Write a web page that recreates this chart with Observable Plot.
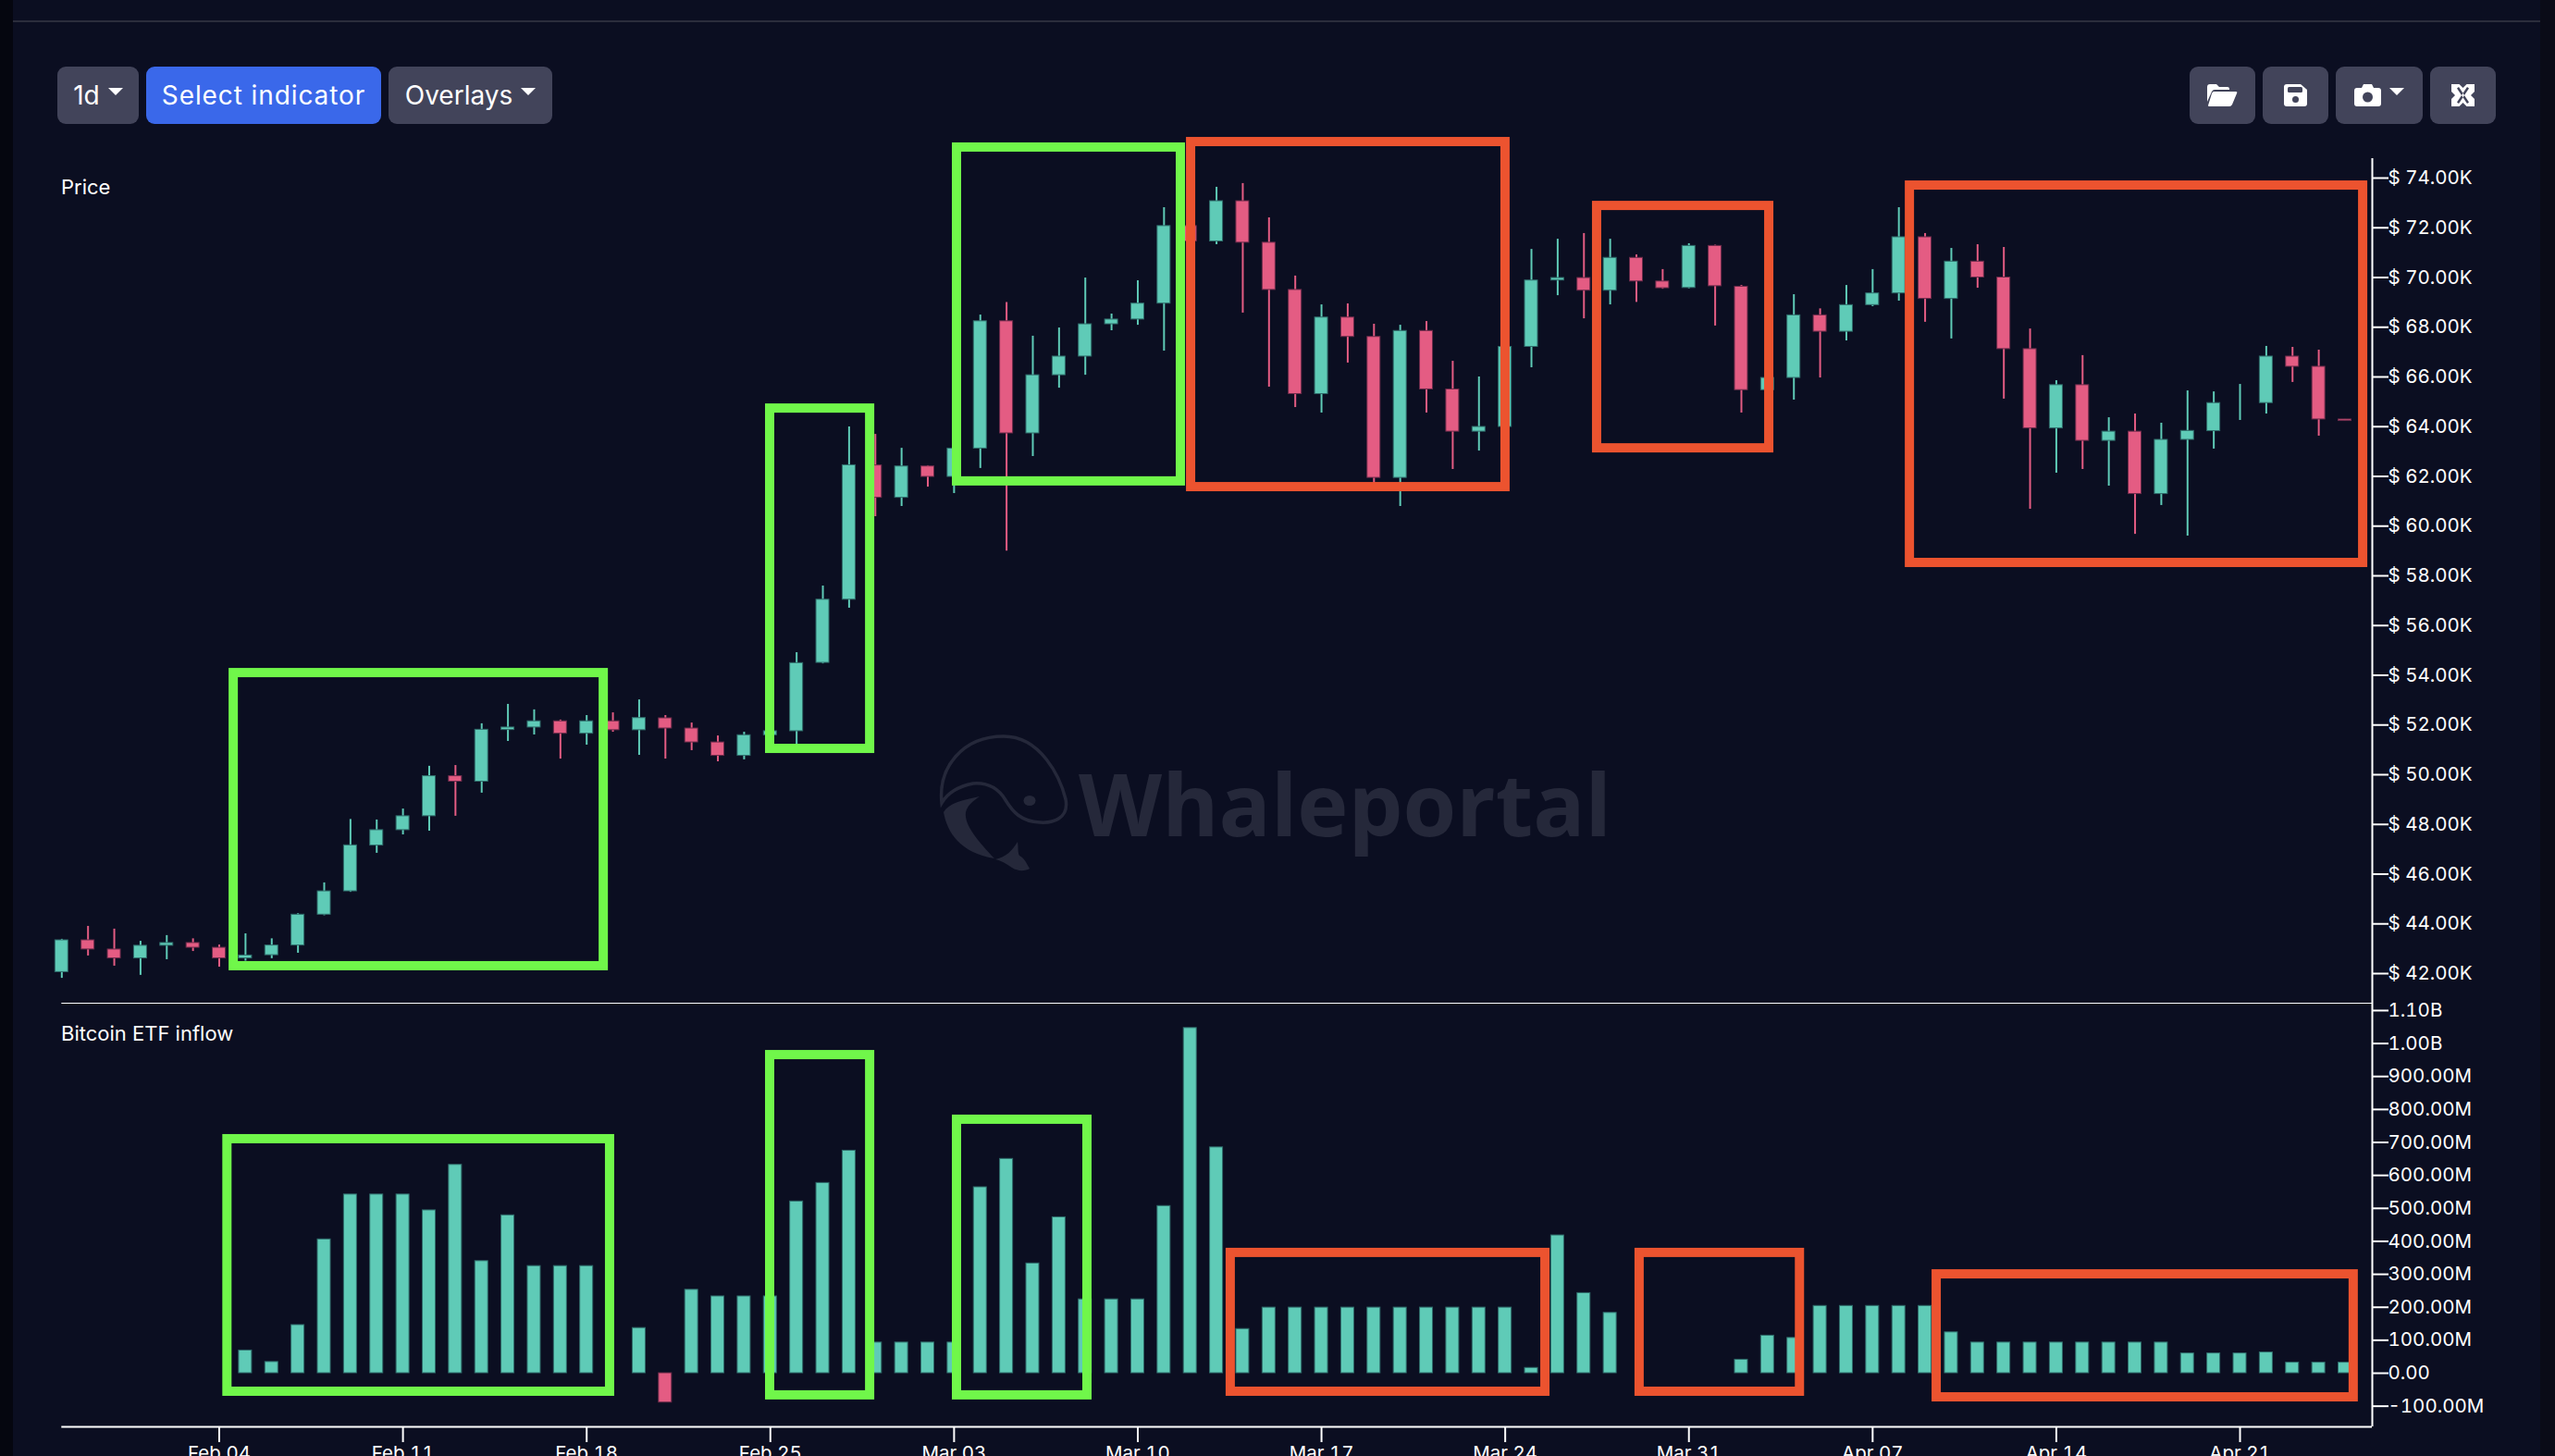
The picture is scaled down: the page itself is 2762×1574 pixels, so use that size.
<!DOCTYPE html>
<html><head><meta charset="utf-8">
<script src="https://cdn.jsdelivr.net/npm/d3@7"></script>
<script src="https://cdn.jsdelivr.net/npm/@observablehq/plot@0.6"></script>
<style>
html,body{margin:0;padding:0;background:#0b0e21;width:2762px;height:1574px;overflow:hidden;font-family:Inter,sans-serif;color:#fff}
.abs{position:absolute}
.stripL{left:0;top:0;width:14px;height:1574px;background:#05060f}
.stripR{left:2746px;top:0;width:16px;height:1574px;background:#0a0b17}
.hline{left:14px;top:22px;width:2732px;height:2px;background:#2b2d3c}
.btn{top:72px;height:62px;border-radius:9px;background:#42445a;display:flex;align-items:center;justify-content:center;font-size:28px;font-weight:400;color:#fff;box-sizing:border-box}
.btn.blue{background:#3a68ea;letter-spacing:.9px}
.caret{display:inline-block;width:0;height:0;border-left:8px solid transparent;border-right:8px solid transparent;border-top:8px solid #fff;margin-left:9px;position:relative;top:-4px}
.lab{font-size:22px;line-height:26px}
.panel{left:0}
.panel svg{display:block;background:transparent;overflow:visible}
[aria-label="y-axis tick"],[aria-label="x-axis tick"]{stroke-width:2}
</style></head><body>
<div class="abs stripL"></div><div class="abs stripR"></div><div class="abs hline"></div>

<svg class="abs" style="left:1000px;top:780px" width="780" height="180">
  <g fill="none" stroke="#25283a" stroke-width="3.5"><path d="M18 88 C14 50 40 16 85 16 C125 16 146 60 152 84 C156 105 138 110 124 109 C104 108 95 98 87 85 C78 70 66 66 52 67 C36 70 24 78 18 88Z"/></g>
  <g fill="#25283a">
    <ellipse cx="113" cy="85.5" rx="6.5" ry="5.5"/>
    <path d="M59 81 C40 85 26 88 20 98 C24 120 38 142 75 148 C58 130 42 112 44 98 C46 90 52 86 59 81Z"/>
    <path d="M76 149 C88 146 94 140 100 130 C101 136 100 142 102 145 C108 148 110 154 113 159 C108 162 100 162 94 158 C88 154 84 151 76 149Z"/>
    <text x="166" y="124" font-family="'Open Sans',sans-serif" font-weight="700" font-size="94" textLength="576" lengthAdjust="spacingAndGlyphs">Whaleportal</text>
  </g>
</svg>

<div id="p1" class="abs panel" style="top:0"></div>
<div id="p2" class="abs panel" style="top:1074px"></div>

<div class="abs btn" style="left:62px;width:88px">1d<span class="caret"></span></div>
<div class="abs btn blue" style="left:158px;width:254px">Select indicator</div>
<div class="abs btn" style="left:420px;width:177px">Overlays<span class="caret"></span></div>

<div class="abs btn" style="left:2367px;width:71px"><svg width="33" height="24" viewBox="0 0 33 24"><path fill="#fff" d="M0 3q0-3 3-3h7l3 3h9q2 0 2 2v1H8q-2 0-3 2L0 19Z M7 8H31q2 0 1 2L27 22q-1 2-3 2H2q-1 0-1-1L5 10q1-2 2-2Z"/></svg></div>
<div class="abs btn" style="left:2446px;width:71px"><svg width="25" height="24" viewBox="0 0 25 24"><path fill="#fff" d="M3 0H18L25 6V21q0 3-3 3H3q-3 0-3-3V3q0-3 3-3Z"/><rect x="4" y="3" width="16" height="6" rx="1.5" fill="#42445a"/><circle cx="12.5" cy="16.5" r="3.5" fill="#42445a"/></svg></div>
<div class="abs btn" style="left:2525px;width:94px"><svg width="29" height="24" viewBox="0 0 29 24"><path fill="#fff" d="M3 4H8L10 0H19L21 4H26q3 0 3 3V21q0 3-3 3H3q-3 0-3-3V7q0-3 3-3Z"/><circle cx="14.5" cy="14" r="5.5" fill="#42445a"/></svg><span class="caret"></span></div>
<div class="abs btn" style="left:2627px;width:71px"><svg width="25" height="24" viewBox="0 0 25 24"><rect width="25" height="24" fill="#fff"/><path fill="#42445a" d="M8.5 0h8l-4 4zM8.5 24h8l-4-4zM0 8v8l4-4zM25 8v8l-4-4zM6 4.5L8 3l11 16.500-2 1.500zM19 4.500L17 3L6 19.500l2 1.500z"/></svg></div>

<div class="abs lab" style="left:66px;top:189px">Price</div>
<div class="abs lab" style="left:66px;top:1104px">Bitcoin ETF inflow</div>

<script>
const firstDay = "2024-01-29";
const openK = [42.06,43.34,42.97,42.61,43.12,43.23,43.04,42.61,42.74,43.13,44.37,45.31,47.15,47.77,48.33,49.94,49.72,51.80,51.90,52.15,51.65,52.15,51.79,52.27,51.86,51.30,50.76,51.59,51.75,54.50,57.04,62.44,61.14,62.40,61.98,63.12,68.24,63.73,66.07,66.82,68.12,68.31,68.95,72.07,71.45,73.07,71.40,69.50,65.31,68.39,67.61,61.94,67.85,65.50,63.80,63.99,67.21,69.88,69.98,69.47,70.79,69.84,69.58,71.27,69.63,65.47,65.96,68.48,67.82,68.89,69.36,71.62,69.14,70.64,70.00,67.12,63.93,65.67,63.43,63.80,61.29,63.47,63.82,64.96,64.95,66.82,66.41,64.29];
const closeK = [43.34,42.97,42.61,43.12,43.23,43.04,42.61,42.73,43.13,44.37,45.31,47.16,47.77,48.33,49.94,49.72,51.81,51.90,52.15,51.65,52.15,51.79,52.28,51.86,51.30,50.76,51.59,51.75,54.49,57.04,62.45,61.14,62.40,61.98,63.12,68.24,63.73,66.07,66.82,68.12,68.31,68.95,72.07,71.45,73.07,71.40,69.50,65.31,68.39,67.61,61.94,67.85,65.50,63.80,63.99,67.21,69.88,69.98,69.47,70.79,69.84,69.57,71.27,69.65,65.47,65.96,68.48,67.82,68.89,69.36,71.62,69.14,70.64,70.00,67.12,63.93,65.67,63.43,63.80,61.29,63.47,63.83,64.95,64.96,66.82,66.41,64.29,64.23];
const highK = [43.38,43.90,43.79,43.30,43.53,43.40,43.15,43.60,43.40,44.41,45.65,48.20,48.18,48.62,50.34,50.37,52.05,52.83,52.61,52.20,52.38,52.49,53.01,52.38,52.08,51.56,51.71,51.90,54.91,57.59,63.99,63.69,63.13,62.43,63.20,68.49,69.00,67.64,67.97,69.98,68.53,69.87,72.81,72.90,73.63,73.78,72.40,70.06,68.90,68.94,68.12,68.08,68.23,66.63,66.00,67.60,71.13,71.54,71.77,71.54,70.91,70.32,71.36,71.30,69.68,66.80,69.31,68.74,69.68,70.32,72.81,71.77,71.17,71.32,71.21,67.93,65.85,66.86,64.36,64.51,64.14,65.44,65.40,65.70,67.23,67.19,67.08,64.29];
const lowK = [41.81,42.71,42.30,41.93,42.56,42.89,42.26,42.50,42.60,42.82,44.33,45.27,46.84,47.58,47.73,48.33,49.26,51.34,51.60,50.63,51.19,51.71,50.78,50.63,50.97,50.52,50.60,51.30,50.90,54.46,56.70,60.38,60.79,61.57,61.31,62.32,59.00,62.80,65.55,66.07,67.86,68.08,67.04,68.70,71.32,68.57,65.59,64.77,64.55,66.56,61.60,60.79,64.55,62.28,63.02,63.50,66.37,69.27,68.34,68.90,69.00,69.53,69.55,68.05,64.55,64.50,65.07,65.96,67.45,68.83,69.05,68.20,67.53,69.57,65.11,60.68,62.13,62.28,61.61,59.67,60.83,59.60,63.10,64.25,64.51,65.78,63.62,64.23];
// Bitcoin ETF inflow in $M; first bar is Feb 05, gaps are days without a bar
const inflowFirstOffset = 7;
const inflowM = [69,34,146,406,542,542,542,494,632,340,479,325,325,325,null,137,-89,253,233,233,233,521,577,675,93,93,93,93,564,650,333,473,224,224,224,507,1047,685,134,199,199,199,199,199,199,199,199,199,199,16,418,243,183,null,null,null,null,41,114,107,204,204,204,204,204,124,93,93,93,93,93,93,93,93,60,60,60,63,32,32,32];
const priceTicks = [42,44,46,48,50,52,54,56,58,60,62,64,66,68,70,72,74];
const inflowTicks = [-100,0,100,200,300,400,500,600,700,800,900,1000,1100];
const weekTicks = ["2024-02-04","2024-02-11","2024-02-18","2024-02-25","2024-03-03","2024-03-10","2024-03-17","2024-03-24","2024-03-31","2024-04-07","2024-04-14","2024-04-21"];
// analyst's rectangles: start day, end day (offsets from firstDay), top and bottom values
const priceBoxes = [
 {c:"up",a:6.55,b:20.65,t:54.09,u:42.30},{c:"up",a:26.99,b:30.80,t:64.73,u:51.04},{c:"up",a:34.11,b:42.64,t:75.23,u:61.80},
 {c:"down",a:43.03,b:55.01,t:75.45,u:61.57},{c:"down",a:58.50,b:65.06,t:72.88,u:63.13},{c:"down",a:70.42,b:87.69,t:73.70,u:58.52}];
const inflowBoxes = [
 {c:"up",a:6.31,b:20.89,t:710,u:-56},{c:"up",a:26.99,b:30.80,t:965,u:-67},{c:"up",a:34.11,b:39.08,t:769,u:-67},
 {c:"down",a:44.54,b:56.53,t:365,u:-56},{c:"down",a:60.12,b:66.23,t:365,u:-56},{c:"down",a:71.44,b:87.33,t:300,u:-73}];

const TEAL="#5fcbb7", PINK="#e45c83", TEAL_E="#2f6b6a", PINK_E="#6b2b4a", GREEN="#70f74a", ORANGE="#ec532f";
const DAY=864e5, t0=Date.parse(firstDay+"T00:00:00Z");
const at=k=>new Date(t0+k*DAY);
const xDomain=[at(0),at(88.04)];
const halfBar=0.247;
const candles=openK.map((o,i)=>({i,date:at(i),o,c:closeK[i],h:highK[i],l:lowK[i],up:closeK[i]>=o}));
const bars=inflowM.map((v,i)=>({i:i+inflowFirstOffset,v})).filter(d=>d.v!=null);
const boxColor=d=>d.c==="up"?GREEN:ORANGE;
const fontStyle={fontFamily:"Inter,sans-serif",fontSize:"20.500px",background:"transparent",color:"#fff"};

const boxMark=(boxes)=>Plot.rect(boxes,{x1:d=>at(d.a),x2:d=>at(d.b),y1:"u",y2:"t",fill:"none",stroke:boxColor,strokeWidth:10});

const price=Plot.plot({
  width:2762,height:1084,marginLeft:66.3,marginRight:198,marginTop:171,marginBottom:0,
  style:fontStyle,
  x:{type:"utc",domain:xDomain,axis:null},
  y:{domain:[74-892/26.875,74+21/26.875],axis:null},
  marks:[
    Plot.ruleX(candles,{x:"date",y1:"l",y2:"h",stroke:d=>d.up?TEAL:PINK,strokeWidth:2}),
    Plot.rect(candles.filter(d=>d.o!==d.c),{x1:d=>at(d.i-halfBar),x2:d=>at(d.i+halfBar),y1:"o",y2:"c",fill:d=>d.up?TEAL:PINK,stroke:d=>d.up?TEAL_E:PINK_E,strokeWidth:1}),
    boxMark(priceBoxes),
    Plot.ruleX([xDomain[1]],{stroke:"#fff",strokeWidth:2}),
    Plot.axisY(priceTicks,{anchor:"right",label:null,tickSize:17,tickPadding:0,color:"#fff",tickFormat:d=>`$ ${d.toFixed(2)}K`})
  ]
});
document.getElementById("p1").appendChild(price);

const inflow=Plot.plot({
  width:2762,height:500,marginLeft:66.3,marginRight:198,marginTop:10,marginBottom:32,
  style:fontStyle,
  x:{type:"utc",domain:xDomain,axis:null},
  y:{domain:[-162.7,1122.3],axis:null},
  marks:[
    Plot.rect(bars,{x1:d=>at(d.i-halfBar),x2:d=>at(d.i+halfBar),y1:0,y2:"v",fill:d=>d.v>=0?TEAL:PINK,stroke:d=>d.v>=0?TEAL_E:PINK_E,strokeWidth:1}),
    boxMark(inflowBoxes),
    Plot.ruleY([1122.3],{stroke:"#fff",strokeWidth:1.2}),
    Plot.ruleY([-162.7],{stroke:"#fff",strokeWidth:2}),
    Plot.ruleX([xDomain[1]],{stroke:"#fff",strokeWidth:2}),
    Plot.axisY(inflowTicks,{anchor:"right",label:null,tickSize:17,tickPadding:0,color:"#fff",
      tickFormat:d=>d>=1000?`${(d/1000).toFixed(2)}B`:d===0?"0.00":`${d.toFixed(2)}M`}),
    Plot.axisX(weekTicks.map(s=>new Date(s+"T00:00:00Z")),{anchor:"bottom",label:null,tickSize:17,tickPadding:4,color:"#fff",tickFormat:d3.utcFormat("%b %d")})
  ]
});
document.getElementById("p2").appendChild(inflow);
</script>
</body></html>
